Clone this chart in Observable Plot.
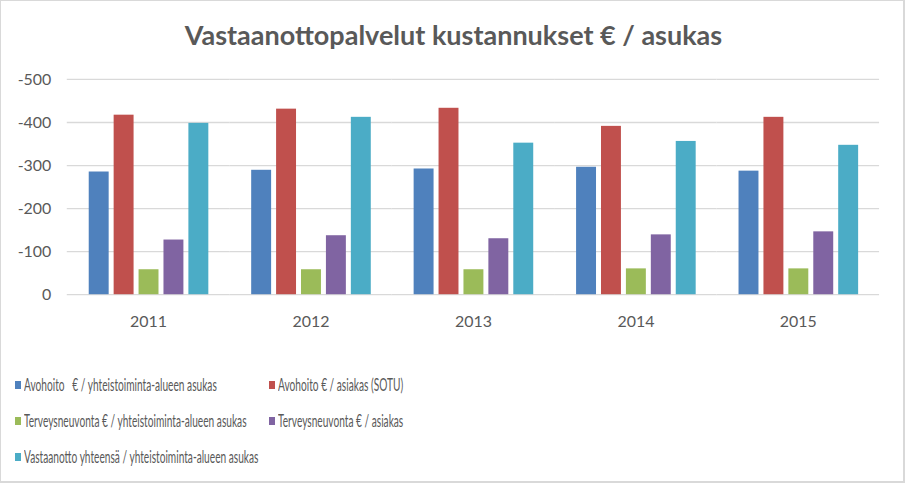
<!DOCTYPE html>
<html>
<head>
<meta charset="utf-8">
<script src="https://cdn.jsdelivr.net/npm/d3@7"></script>
<script src="https://cdn.jsdelivr.net/npm/@observablehq/plot@0.6"></script>
<style>
  html, body { margin: 0; padding: 0; background: #fff; }
  #frame { position: relative; width: 905px; height: 483px; box-sizing: border-box; border: 1px solid #d9d9d9; border-right-width: 2px; border-bottom-width: 2px; overflow: hidden; font-family: Lato, "Open Sans", sans-serif; color: #595959; }
  #title { position: absolute; left: 0; top: 17px; width: 905px; text-align: center; font-size: 27px; font-weight: bold; color: #595959; white-space: nowrap; }
  #chart { position: absolute; left: 0; top: 60px; }
  .leg { position: absolute; height: 20px; white-space: nowrap; }
  .leg .sw { position: absolute; left: 0; top: 6px; width: 6px; height: 8px; }
  .leg .tx { position: absolute; left: 9px; top: 0; font-size: 17.5px; line-height: 20px; color: #595959; transform: scaleX(0.58); transform-origin: left center; }
</style>
</head>
<body>
<div id="frame">
  <div id="title">Vastaanottopalvelut kustannukset € / asukas</div>
  <div id="chart"></div>
  <div id="legend"></div>
</div>
<script>
const years = ["2011", "2012", "2013", "2014", "2015"];
const seriesNames = [
  "Avohoito   € / yhteistoiminta-alueen asukas",
  "Avohoito € / asiakas (SOTU)",
  "Terveysneuvonta € / yhteistoiminta-alueen asukas",
  "Terveysneuvonta € / asiakas",
  "Vastaanotto yhteensä / yhteistoiminta-alueen asukas"
];
const seriesColors = ["#4F81BD", "#C0504D", "#9BBB59", "#8064A2", "#4BACC6"];
const avohoitoAsukas = [-285, -289, -292, -296, -287];
const avohoitoAsiakas = [-417, -431, -433, -391, -412];
const terveysAsukas = [-58, -58, -58, -60, -60];
const terveysAsiakas = [-127, -137, -130, -139, -146];
const vastaanottoAsukas = [-398, -412, -352, -356, -347];
const yTicks = [0, -100, -200, -300, -400, -500];

const seriesValues = [avohoitoAsukas, avohoitoAsiakas, terveysAsukas, terveysAsiakas, vastaanottoAsukas];
const data = [];
years.forEach((yr, i) => {
  seriesNames.forEach((s, j) => {
    data.push({year: yr, series: s, value: seriesValues[j][i]});
  });
});

const chart = Plot.plot({
  width: 905,
  height: 274,
  marginTop: 18,
  marginBottom: 40,
  marginLeft: 66,
  marginRight: 24,
  style: {fontFamily: "Lato, 'Open Sans', sans-serif", fontSize: "16px", color: "#595959", background: "transparent"},
  fx: {domain: years, padding: 0, label: null},
  x: {domain: seriesNames, paddingInner: 0.2, paddingOuter: 0.86, axis: null},
  y: {domain: [0, -500], label: null},
  color: {domain: seriesNames, range: seriesColors},
  marks: [
    Plot.ruleY(yTicks, {stroke: "#d9d9d9", strokeWidth: 1.3}),
    Plot.barY(data, {fx: "year", x: "series", y: "value", fill: "series"}),
    Plot.axisY(yTicks, {tickSize: 0, tickPadding: 16, tickFormat: d => String(d), label: null, fill: "#595959"}),
    Plot.axisFx({anchor: "bottom", tickSize: 0, tickPadding: 21, label: null, fill: "#595959"})
  ]
});
document.getElementById("chart").appendChild(chart);

const legendPos = [[14, 374], [268, 374], [14, 410], [268, 410], [14, 446]];
const legend = document.getElementById("legend");
seriesNames.forEach((s, i) => {
  const d = document.createElement("div");
  d.className = "leg";
  d.style.left = legendPos[i][0] + "px";
  d.style.top = legendPos[i][1] + "px";
  const sw = document.createElement("span");
  sw.className = "sw";
  sw.style.background = seriesColors[i];
  const tx = document.createElement("span");
  tx.className = "tx";
  tx.textContent = s;
  tx.style.whiteSpace = "pre";
  d.appendChild(sw);
  d.appendChild(tx);
  legend.appendChild(d);
});
</script>
</body>
</html>
